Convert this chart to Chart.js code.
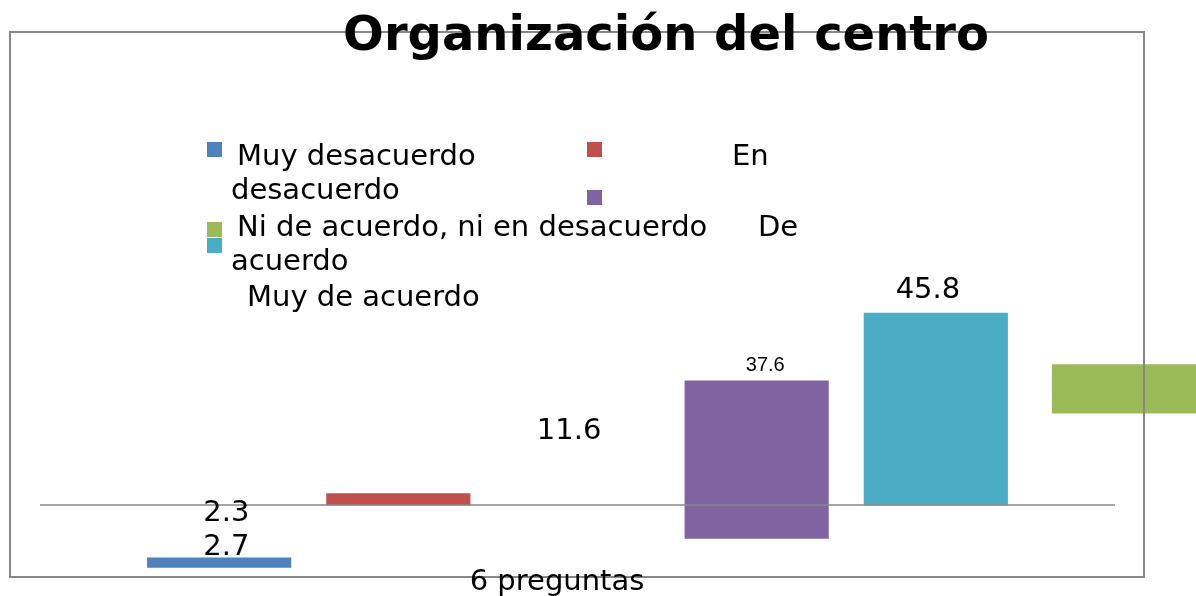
<!DOCTYPE html>
<html>
<head>
<meta charset="utf-8">
<title>Organización del centro</title>
<script src="https://cdn.jsdelivr.net/npm/chart.js"></script>
<style>
  html, body { margin: 0; padding: 0; background: #fff; }
  #grafico { display: block; }
</style>
</head>
<body>
<canvas id="grafico" width="1196" height="596"></canvas>
<script>
// datos del gráfico
const categoria = '6 preguntas';
const series = ['Muy desacuerdo', 'En desacuerdo', 'Ni de acuerdo, ni en desacuerdo', 'De acuerdo', 'Muy de acuerdo'];
const valores = [2.3, 2.7, 11.6, 37.6, 45.8];
// donde empieza cada barra (tal como aparece en la imagen, en unidades del eje)
const inicios = [-14.9, 0, 21.9, -8.0, 0];
// hueco que ocupa cada barra en el eje x
const huecos = [1, 2, 6.05, 4, 5];
const colores = ['#4F81BD', '#C0504D', '#9BBB59', '#8064A2', '#4BACC6'];

// plugin que dibuja marco, eje, título, leyenda y etiquetas
const decoracion = {
  id: 'decoracion',
  afterDatasetsDraw(chart) {
    const ctx = chart.ctx;
    const x = chart.scales.x;
    const y = chart.scales.y;
    ctx.save();

    // línea del eje (valor 0)
    const y0 = y.getPixelForValue(0);
    ctx.strokeStyle = '#878787';
    ctx.lineWidth = 1.5;
    ctx.beginPath();
    ctx.moveTo(x.getPixelForValue(0), y0);
    ctx.lineTo(x.getPixelForValue(6), y0);
    ctx.stroke();

    // marco
    ctx.lineWidth = 2;
    ctx.strokeRect(10, 32, 1134, 545);

    // título
    ctx.fillStyle = '#000';
    ctx.textAlign = 'center';
    ctx.textBaseline = 'alphabetic';
    ctx.font = 'bold 48px "DejaVu Sans"';
    ctx.fillText('Organización del centro', 666, 50);

    // leyenda (descolocada como en el original)
    const cuadro = (c, px, py) => { ctx.fillStyle = c; ctx.fillRect(px, py, 15, 15); };
    cuadro(colores[0], 207, 142);
    cuadro(colores[1], 587, 142);
    cuadro(colores[3], 587, 190);
    cuadro(colores[2], 207, 222);
    cuadro(colores[4], 207, 238);
    ctx.fillStyle = '#000';
    ctx.textAlign = 'left';
    ctx.font = '29px "DejaVu Sans"';
    ctx.fillText(series[0], 237, 165);
    ctx.fillText('En', 732, 165);
    ctx.fillText('desacuerdo', 231, 199);
    ctx.fillText(series[2], 237, 236);
    ctx.fillText('De', 758, 236);
    ctx.fillText('acuerdo', 231, 270);
    ctx.fillText(series[4], 247, 306);

    // etiquetas de datos
    const etiquetas = chart.options.plugins.decoracion.etiquetas;
    ctx.textAlign = 'center';
    etiquetas.forEach(e => {
      ctx.font = e.font;
      ctx.fillText(valores[e.serie].toFixed(1), x.getPixelForValue(e.x), y.getPixelForValue(e.y));
    });

    // rótulo de la categoría
    ctx.font = '29px "DejaVu Sans"';
    ctx.fillText(categoria, 557, 590);
    ctx.restore();
  }
};

const ctx = document.getElementById('grafico').getContext('2d');
const grafico = new Chart(ctx, {
  type: 'bar',
  data: {
    datasets: [{
      label: categoria,
      data: valores.map((v, i) => ({ x: huecos[i], y: [inicios[i], inicios[i] + v] })),
      backgroundColor: colores,
      borderWidth: 0,
      barThickness: 143.5,
      clip: false
    }]
  },
  options: {
    responsive: false,
    animation: false,
    devicePixelRatio: 1,
    layout: { padding: { left: 40, right: 63.1, top: 85.8, bottom: 7.16 } },
    scales: {
      x: { type: 'linear', min: 0, max: 6.1, offset: false, display: false },
      y: { min: -20, max: 100, display: false }
    },
    plugins: {
      legend: { display: false },
      tooltip: { enabled: false },
      title: { display: false },
      decoracion: {
        // posición de cada etiqueta en unidades de los ejes
        etiquetas: [
          { serie: 0, x: 1.04, y: -3.75, font: '29px "DejaVu Sans"' },
          { serie: 1, x: 1.04, y: -11.93, font: '29px "DejaVu Sans"' },
          { serie: 2, x: 2.953, y: 15.74, font: '29px "DejaVu Sans"' },
          { serie: 3, x: 4.048, y: 32.04, font: '20px "Liberation Sans"' },
          { serie: 4, x: 4.956, y: 49.38, font: '29px "DejaVu Sans"' }
        ]
      }
    }
  },
  plugins: [decoracion]
});
</script>
</body>
</html>
